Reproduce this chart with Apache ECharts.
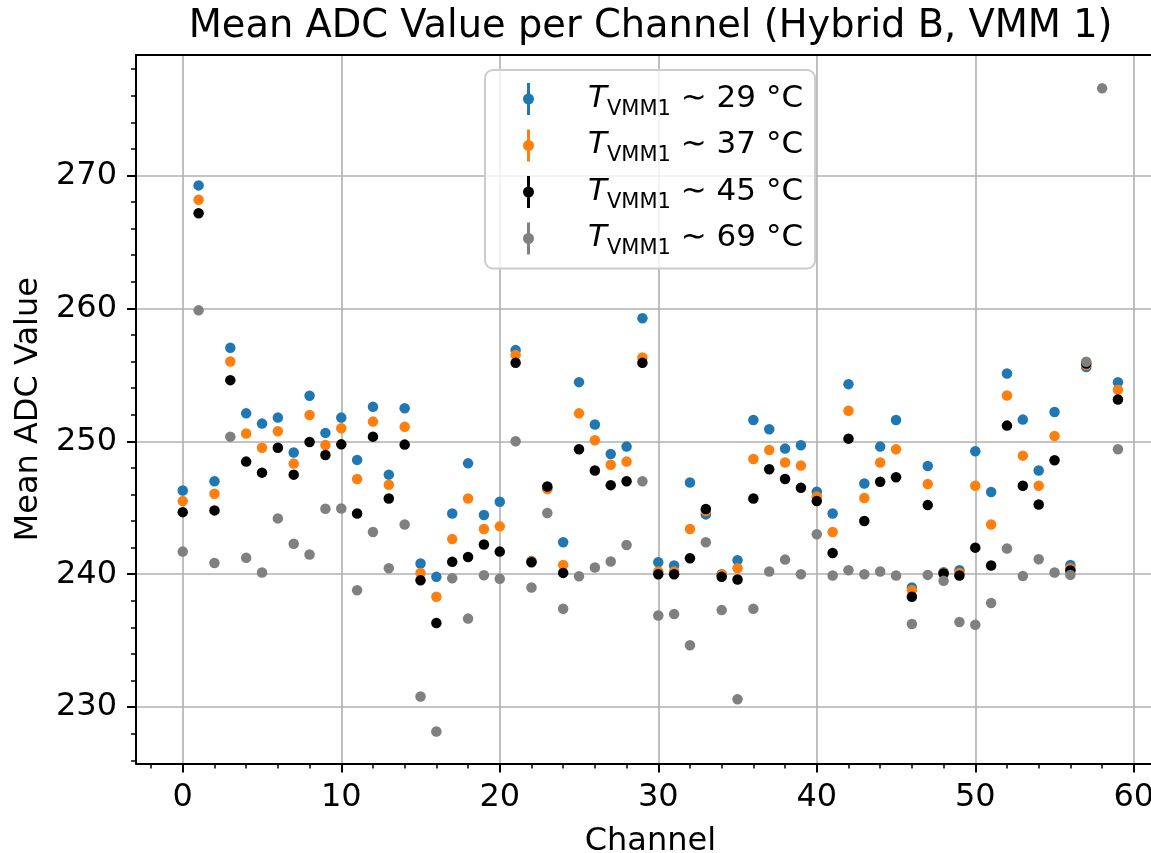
<!DOCTYPE html>
<html>
<head>
<meta charset="utf-8">
<script src="https://cdn.jsdelivr.net/npm/echarts@6/dist/echarts.min.js"></script>
<style>
html,body{margin:0;padding:0;background:#fff;overflow:hidden;}
#chart{width:1151px;height:853px;}
</style>
</head>
<body>
<div id="chart"></div>
<script>
const channels = [0,1,2,3,4,5,6,7,8,9,10,11,12,13,14,15,16,17,18,19,20,21,22,23,24,25,26,27,28,29,30,31,32,33,34,35,36,37,38,39,40,41,42,43,44,45,46,47,48,49,50,51,52,53,54,55,56,57,58,59];
const t29 = [246.3,269.25,247.0,257.03,252.1,251.33,251.78,249.15,253.42,250.63,251.78,248.6,252.59,247.49,252.49,240.8,239.8,244.57,248.34,244.45,245.45,256.86,241.0,246.5,242.4,254.45,251.26,249.05,249.6,259.25,240.9,240.65,246.9,244.5,240.0,241.05,251.6,250.9,249.45,249.7,246.2,244.57,254.3,246.83,249.6,251.6,239.0,248.14,240.15,240.3,249.25,246.18,255.1,251.63,247.8,252.2,240.7,255.58,null,254.45];
const t37 = [245.5,268.17,246.05,256.0,250.58,249.52,250.75,248.32,251.98,249.72,250.98,247.16,251.48,246.73,251.1,240.1,238.3,242.64,245.7,243.4,243.6,256.5,240.95,246.4,240.7,252.1,250.08,248.24,248.47,256.3,240.2,240.2,243.4,244.75,239.97,240.45,248.67,249.35,248.4,248.17,245.85,243.17,252.3,245.73,248.4,249.4,238.8,246.78,240.1,240.1,246.66,243.74,253.45,248.92,246.66,250.4,240.45,255.73,null,253.87];
const t45 = [244.67,267.16,244.8,254.6,248.47,247.64,249.52,247.49,249.95,248.97,249.77,244.57,250.35,245.7,249.75,239.55,236.33,240.93,241.3,242.24,241.7,255.9,240.9,246.6,240.1,249.4,247.8,246.7,247.0,255.9,240.0,240.0,241.2,244.9,239.8,239.6,245.7,247.9,247.16,246.5,245.5,241.6,250.2,244.0,246.96,247.3,238.3,245.2,240.05,239.9,242.0,240.65,251.18,246.66,245.25,248.57,240.28,255.85,null,253.14];
const t69 = [241.7,259.85,240.85,250.35,241.23,240.13,244.2,242.29,241.48,244.92,244.95,238.8,243.17,240.45,243.74,230.8,228.17,239.7,236.66,239.92,239.65,250.0,239.0,244.6,237.4,239.85,240.5,240.95,242.2,247.0,236.9,237.0,234.65,242.4,237.3,230.6,237.4,240.2,241.1,240.0,243.0,239.9,240.3,240.0,240.2,239.9,236.25,239.95,239.5,236.4,236.2,237.84,241.93,239.87,241.13,240.13,239.95,255.98,276.55,249.4];
const temps = ['29','37','45','69'];
const seriesValues = [t29, t37, t45, t69];
const colors = ['#1f77b4','#ff7f0e','#000000','#808080'];
const xTicks = [0,10,20,30,40,50,60];
const xMinor = [-2,2,4,6,8,12,14,16,18,22,24,26,28,32,34,36,38,42,44,46,48,52,54,56,58,62];
const yTicks = [230,240,250,260,270];
const yMinor = [226,228,232,234,236,238,242,244,246,248,252,254,256,258,262,264,266,268,272,274,276,278];
const xRange = [-2.95, 61.95];
const yRange = [225.76, 279.06];

const FONT = 'DejaVu Sans';
const gridRect = {left:136, top:55, width:1028.7, height:708.5, outerBoundsMode:'none', containLabel:false};
const iconPath = 'path://M4,0 H7 V32 H4 Z M0,16 A5.5,5.5 0 1,1 11,16 A5.5,5.5 0 1,1 0,16 Z';

const series = seriesValues.map((vals, k) => ({
  name: 'T' + temps[k],
  type: 'scatter',
  xAxisIndex: 0, yAxisIndex: 0,
  symbol: 'circle',
  symbolSize: 10.5,
  itemStyle: {color: colors[k], opacity: 1},
  emphasis: {disabled: true},
  data: channels.map((c, i) => [c, vals[i]]).filter(d => d[1] !== null),
  z: 3 + k
}));

const chart = echarts.init(document.getElementById('chart'), null, {renderer:'canvas'});
chart.setOption({
  animation: false,
  backgroundColor: '#ffffff',
  title: {
    text: 'Mean ADC Value per Channel (Hybrid B, VMM 1)',
    left: 650.6, top: 8, textAlign: 'center', padding: 0,
    textStyle: {fontFamily: FONT, fontSize: 38.4, fontWeight: 'normal', color: '#000'}
  },
  grid: [
    Object.assign({show:false}, gridRect),
    Object.assign({show:false}, gridRect)
  ],
  legend: {
    orient: 'vertical', left: 485, top: 70,
    padding: [13, 12, 9, 38],
    itemGap: 9.5, itemWidth: 11, itemHeight: 32,
    icon: iconPath,
    backgroundColor: 'rgba(255,255,255,0.8)',
    borderColor: '#cccccc', borderWidth: 2, borderRadius: 8,
    selectedMode: false,
    formatter: function(name){
      return '{t|T}{s|VMM1}{n| ∼ ' + name.slice(1) + ' °C}';
    },
    textStyle: {
      fontFamily: FONT, color: '#000',
      rich: {
        t: {fontFamily: FONT, fontSize: 31, fontStyle: 'italic', lineHeight: 32, padding: [0,0,0,49], verticalAlign: 'top'},
        s: {fontFamily: FONT, fontSize: 21, lineHeight: 20, padding: [16,0,0,0], verticalAlign: 'top'},
        n: {fontFamily: FONT, fontSize: 31, lineHeight: 32, verticalAlign: 'top'}
      }
    }
  },
  xAxis: [
    {
      type: 'value', gridIndex: 0, position: 'bottom', min: xRange[0], max: xRange[1],
      name: 'Channel', nameLocation: 'middle', nameGap: 62,
      nameTextStyle: {fontFamily: FONT, fontSize: 32, color: '#000'},
      axisLine: {show: true, onZero: false, lineStyle: {color:'#000', width: 2}},
      axisTick: {show: true, customValues: xTicks, length: 9, lineStyle: {color:'#000', width: 2}},
      axisLabel: {show: true, customValues: xTicks, margin: 18, fontFamily: FONT, fontSize: 32, color: '#000'},
      splitLine: {show: true, lineStyle: {color: '#b0b0b0', width: 1.6}}
    },
    {
      type: 'value', gridIndex: 0, position: 'top', min: xRange[0], max: xRange[1],
      axisLine: {show: true, onZero: false, lineStyle: {color:'#000', width: 2}},
      axisTick: {show: false}, axisLabel: {show: false}, splitLine: {show: false}
    },
    {
      type: 'value', gridIndex: 1, position: 'bottom', min: xRange[0], max: xRange[1],
      axisLine: {show: false, onZero: false},
      axisTick: {show: true, customValues: xMinor, length: 5, lineStyle: {color:'#000', width: 1.5}},
      axisLabel: {show: false}, splitLine: {show: false}
    }
  ],
  yAxis: [
    {
      type: 'value', gridIndex: 0, position: 'left', min: yRange[0], max: yRange[1],
      name: 'Mean ADC Value', nameLocation: 'middle', nameGap: 84, nameRotate: 90,
      nameTextStyle: {fontFamily: FONT, fontSize: 32, color: '#000'},
      axisLine: {show: true, onZero: false, lineStyle: {color:'#000', width: 2}},
      axisTick: {show: true, customValues: yTicks, length: 9, lineStyle: {color:'#000', width: 2}},
      axisLabel: {show: true, customValues: yTicks, margin: 19, fontFamily: FONT, fontSize: 32, color: '#000'},
      splitLine: {show: true, lineStyle: {color: '#b0b0b0', width: 1.6}}
    },
    {
      type: 'value', gridIndex: 1, position: 'left', min: yRange[0], max: yRange[1],
      axisLine: {show: false, onZero: false},
      axisTick: {show: true, customValues: yMinor, length: 5, lineStyle: {color:'#000', width: 1.5}},
      axisLabel: {show: false}, splitLine: {show: false}
    }
  ],
  series: series
});
</script>
</body>
</html>
